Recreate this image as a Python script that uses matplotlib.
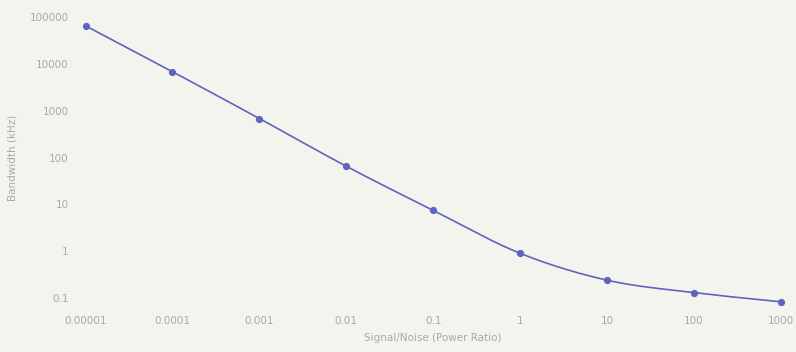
import numpy as np
import matplotlib
matplotlib.use("Agg")
import matplotlib.pyplot as plt

# Signal-to-noise ratio categories and required bandwidth (kHz)
snr_labels = ["0.00001", "0.0001", "0.001", "0.01", "0.1", "1", "10", "100", "1000"]
bandwidth_khz = [65000, 6800, 680, 65, 7.4, 0.9, 0.24, 0.13, 0.083]
y_ticks = [0.1, 1, 10, 100, 1000, 10000, 100000]
y_tick_labels = ["0.1", "1", "10", "100", "1000", "10000", "100000"]

W, H = 796, 352
bg = "#f4f4ee"
text_c = "#a9a9a5"
line_c = "#5f64bf"

fig = plt.figure(figsize=(W / 100, H / 100), dpi=100, facecolor=bg)
left, right, top, bottom = 85.5, 781, 17, 298
ax = fig.add_axes([left / W, 1 - bottom / H, (right - left) / W, (bottom - top) / H])
ax.set_facecolor(bg)

x = np.arange(len(snr_labels))
ly = np.log10(bandwidth_khz)

# Catmull-Rom smoothing in log space for the connecting line
def smooth(xs, ys, n=30):
    px = np.concatenate([[2 * xs[0] - xs[1]], xs, [2 * xs[-1] - xs[-2]]])
    py = np.concatenate([[2 * ys[0] - ys[1]], ys, [2 * ys[-1] - ys[-2]]])
    outx, outy = [], []
    for i in range(1, len(px) - 2):
        t = np.linspace(0, 1, n, endpoint=False)
        for arr, out in ((px, outx), (py, outy)):
            p0, p1, p2, p3 = arr[i - 1], arr[i], arr[i + 1], arr[i + 2]
            out.extend(0.5 * (2 * p1 + (-p0 + p2) * t
                              + (2 * p0 - 5 * p1 + 4 * p2 - p3) * t ** 2
                              + (-p0 + 3 * p1 - 3 * p2 + p3) * t ** 3))
    outx.append(xs[-1])
    outy.append(ys[-1])
    return np.array(outx), np.array(outy)

sx, sy = smooth(x.astype(float), ly)
ax.plot(sx, 10 ** sy, color=line_c, lw=1.2, clip_on=False, solid_capstyle="round")
ax.plot(x, bandwidth_khz, "o", color=line_c, ms=4.2, clip_on=False)

ax.set_yscale("log")
ax.set_ylim(0.1, 100000)
ax.set_xlim(0, len(snr_labels) - 1)
ax.set_yticks(y_ticks)
ax.set_yticklabels(y_tick_labels)
ax.yaxis.set_minor_locator(matplotlib.ticker.NullLocator())
ax.set_xticks(x)
ax.set_xticklabels(snr_labels)

for s in ax.spines.values():
    s.set_visible(False)
ax.tick_params(axis="both", length=0, colors=text_c, labelsize=7.5)
ax.tick_params(axis="y", pad=12)
ax.tick_params(axis="x", pad=13)

ax.set_xlabel("Signal/Noise (Power Ratio)", color=text_c, fontsize=7.5, labelpad=5)
ax.set_ylabel("Bandwidth (kHz)", color=text_c, fontsize=7.5, labelpad=9)

fig.savefig("out.png", dpi=100, facecolor=bg)
